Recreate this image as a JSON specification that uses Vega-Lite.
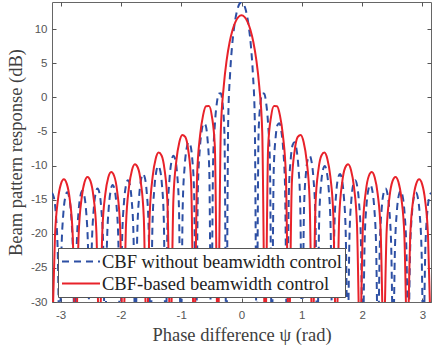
{
  "$schema": "https://vega.github.io/schema/vega-lite/v6.json",
  "width": 379,
  "height": 300,
  "autosize": "none",
  "padding": {"left": 52, "top": 2, "right": 1, "bottom": 50},
  "background": "white",
  "config": {
    "view": {"stroke": "#666666", "strokeWidth": 1},
    "axis": {"grid": false, "domain": false, "tickColor": "#555555", "tickWidth": 1, "labelFont": "Liberation Sans", "labelFontSize": 11.5, "labelColor": "#555555", "titleFont": "Liberation Serif", "titleFontSize": 18.5, "titleFontWeight": "normal", "titleColor": "#404040"}
  },
  "datasets": {
    "blue": [
      {"x":-3.1416,"y":-13.98},{"x":-3.1102,"y":-14.67},{"x":-3.0788,"y":-16.99},{"x":-3.0473,"y":-22.31},{"x":-3.0159,"y":-36},{"x":-2.9845,"y":-22.29},{"x":-2.9531,"y":-16.95},{"x":-2.9217,"y":-14.62},{"x":-2.8903,"y":-13.91},{"x":-2.8588,"y":-14.58},{"x":-2.8274,"y":-16.88},{"x":-2.796,"y":-22.19},{"x":-2.7646,"y":-36},{"x":-2.7332,"y":-22.14},{"x":-2.7018,"y":-16.78},{"x":-2.6704,"y":-14.43},{"x":-2.6389,"y":-13.7},{"x":-2.6075,"y":-14.36},{"x":-2.5761,"y":-16.64},{"x":-2.5447,"y":-21.93},{"x":-2.5133,"y":-36},{"x":-2.4819,"y":-21.84},{"x":-2.4504,"y":-16.46},{"x":-2.419,"y":-14.09},{"x":-2.3876,"y":-13.35},{"x":-2.3562,"y":-13.98},{"x":-2.3248,"y":-16.24},{"x":-2.2934,"y":-21.51},{"x":-2.2619,"y":-36},{"x":-2.2305,"y":-21.39},{"x":-2.1991,"y":-15.99},{"x":-2.1677,"y":-13.6},{"x":-2.1363,"y":-12.83},{"x":-2.1049,"y":-13.45},{"x":-2.0735,"y":-15.69},{"x":-2.042,"y":-20.94},{"x":-2.0106,"y":-36},{"x":-1.9792,"y":-20.76},{"x":-1.9478,"y":-15.34},{"x":-1.9164,"y":-12.93},{"x":-1.885,"y":-12.14},{"x":-1.8535,"y":-12.73},{"x":-1.8221,"y":-14.94},{"x":-1.7907,"y":-20.17},{"x":-1.7593,"y":-36},{"x":-1.7279,"y":-19.94},{"x":-1.6965,"y":-14.49},{"x":-1.665,"y":-12.05},{"x":-1.6336,"y":-11.23},{"x":-1.6022,"y":-11.79},{"x":-1.5708,"y":-13.98},{"x":-1.5394,"y":-19.17},{"x":-1.508,"y":-36},{"x":-1.4765,"y":-18.88},{"x":-1.4451,"y":-13.4},{"x":-1.4137,"y":-10.92},{"x":-1.3823,"y":-10.07},{"x":-1.3509,"y":-10.59},{"x":-1.3195,"y":-12.74},{"x":-1.2881,"y":-17.89},{"x":-1.2566,"y":-36},{"x":-1.2252,"y":-17.51},{"x":-1.1938,"y":-11.99},{"x":-1.1624,"y":-9.46},{"x":-1.131,"y":-8.56},{"x":-1.0996,"y":-9.03},{"x":-1.0681,"y":-11.13},{"x":-1.0367,"y":-16.22},{"x":-1.0053,"y":-36},{"x":-0.9739,"y":-15.72},{"x":-0.9425,"y":-10.13},{"x":-0.9111,"y":-7.54},{"x":-0.8796,"y":-6.56},{"x":-0.8482,"y":-6.96},{"x":-0.8168,"y":-8.97},{"x":-0.7854,"y":-13.98},{"x":-0.754,"y":-36},{"x":-0.7226,"y":-13.29},{"x":-0.6912,"y":-7.59},{"x":-0.6597,"y":-4.88},{"x":-0.6283,"y":-3.78},{"x":-0.5969,"y":-4.04},{"x":-0.5655,"y":-5.9},{"x":-0.5341,"y":-10.75},{"x":-0.5027,"y":-36},{"x":-0.4712,"y":-9.68},{"x":-0.4398,"y":-3.76},{"x":-0.4084,"y":-0.81},{"x":-0.377,"y":0.57},{"x":-0.3456,"y":0.62},{"x":-0.3142,"y":-0.88},{"x":-0.2827,"y":-5.3},{"x":-0.2513,"y":-36},{"x":-0.2199,"y":-3.13},{"x":-0.1885,"y":3.54},{"x":-0.1571,"y":7.44},{"x":-0.1257,"y":10.06},{"x":-0.0942,"y":11.87},{"x":-0.0628,"y":13.07},{"x":-0.0314,"y":13.76},
      {"x":0,"y":13.98},
      {"x":0.0314,"y":13.76},{"x":0.0628,"y":13.07},{"x":0.0942,"y":11.87},{"x":0.1257,"y":10.06},{"x":0.1571,"y":7.44},{"x":0.1885,"y":3.54},{"x":0.2199,"y":-3.13},{"x":0.2513,"y":-36},{"x":0.2827,"y":-5.3},{"x":0.3142,"y":-0.88},{"x":0.3456,"y":0.62},{"x":0.377,"y":0.57},{"x":0.4084,"y":-0.81},{"x":0.4398,"y":-3.76},{"x":0.4712,"y":-9.68},{"x":0.5027,"y":-36},{"x":0.5341,"y":-10.75},{"x":0.5655,"y":-5.9},{"x":0.5969,"y":-4.04},{"x":0.6283,"y":-3.78},{"x":0.6597,"y":-4.88},{"x":0.6912,"y":-7.59},{"x":0.7226,"y":-13.29},{"x":0.754,"y":-36},{"x":0.7854,"y":-13.98},{"x":0.8168,"y":-8.97},{"x":0.8482,"y":-6.96},{"x":0.8796,"y":-6.56},{"x":0.9111,"y":-7.54},{"x":0.9425,"y":-10.13},{"x":0.9739,"y":-15.72},{"x":1.0053,"y":-36},{"x":1.0367,"y":-16.22},{"x":1.0681,"y":-11.13},{"x":1.0996,"y":-9.03},{"x":1.131,"y":-8.56},{"x":1.1624,"y":-9.46},{"x":1.1938,"y":-11.99},{"x":1.2252,"y":-17.51},{"x":1.2566,"y":-36},{"x":1.2881,"y":-17.89},{"x":1.3195,"y":-12.74},{"x":1.3509,"y":-10.59},{"x":1.3823,"y":-10.07},{"x":1.4137,"y":-10.92},{"x":1.4451,"y":-13.4},{"x":1.4765,"y":-18.88},{"x":1.508,"y":-36},{"x":1.5394,"y":-19.17},{"x":1.5708,"y":-13.98},{"x":1.6022,"y":-11.79},{"x":1.6336,"y":-11.23},{"x":1.665,"y":-12.05},{"x":1.6965,"y":-14.49},{"x":1.7279,"y":-19.94},{"x":1.7593,"y":-36},{"x":1.7907,"y":-20.17},{"x":1.8221,"y":-14.94},{"x":1.8535,"y":-12.73},{"x":1.885,"y":-12.14},{"x":1.9164,"y":-12.93},{"x":1.9478,"y":-15.34},{"x":1.9792,"y":-20.76},{"x":2.0106,"y":-36},{"x":2.042,"y":-20.94},{"x":2.0735,"y":-15.69},{"x":2.1049,"y":-13.45},{"x":2.1363,"y":-12.83},{"x":2.1677,"y":-13.6},{"x":2.1991,"y":-15.99},{"x":2.2305,"y":-21.39},{"x":2.2619,"y":-36},{"x":2.2934,"y":-21.51},{"x":2.3248,"y":-16.24},{"x":2.3562,"y":-13.98},{"x":2.3876,"y":-13.35},{"x":2.419,"y":-14.09},{"x":2.4504,"y":-16.46},{"x":2.4819,"y":-21.84},{"x":2.5133,"y":-36},{"x":2.5447,"y":-21.93},{"x":2.5761,"y":-16.64},{"x":2.6075,"y":-14.36},{"x":2.6389,"y":-13.7},{"x":2.6704,"y":-14.43},{"x":2.7018,"y":-16.78},{"x":2.7332,"y":-22.14},{"x":2.7646,"y":-36},{"x":2.796,"y":-22.19},{"x":2.8274,"y":-16.88},{"x":2.8588,"y":-14.58},{"x":2.8903,"y":-13.91},{"x":2.9217,"y":-14.62},{"x":2.9531,"y":-16.95},{"x":2.9845,"y":-22.29},{"x":3.0159,"y":-36},{"x":3.0473,"y":-22.31},{"x":3.0788,"y":-16.99},{"x":3.1102,"y":-14.67},{"x":3.1416,"y":-13.98}
    ],
    "red": [
      {"x":-3.1416,"y":-36},{"x":-3.0925,"y":-20.38},{"x":-3.0434,"y":-15.04},{"x":-2.9943,"y":-12.71},{"x":-2.9452,"y":-12.0},{"x":-2.8962,"y":-12.67},{"x":-2.8471,"y":-14.96},{"x":-2.798,"y":-20.25},{"x":-2.7489,"y":-36},{"x":-2.6998,"y":-20.17},{"x":-2.6507,"y":-14.79},{"x":-2.6016,"y":-12.41},{"x":-2.5525,"y":-11.66},{"x":-2.5035,"y":-12.28},{"x":-2.4544,"y":-14.53},{"x":-2.4053,"y":-19.78},{"x":-2.3562,"y":-36},{"x":-2.3071,"y":-19.6},{"x":-2.258,"y":-14.17},{"x":-2.2089,"y":-11.75},{"x":-2.1598,"y":-10.95},{"x":-2.1108,"y":-11.52},{"x":-2.0617,"y":-13.72},{"x":-2.0126,"y":-18.92},{"x":-1.9635,"y":-36},{"x":-1.9144,"y":-18.63},{"x":-1.8653,"y":-13.15},{"x":-1.8162,"y":-10.66},{"x":-1.7671,"y":-9.8},{"x":-1.7181,"y":-10.31},{"x":-1.669,"y":-12.45},{"x":-1.6199,"y":-17.58},{"x":-1.5708,"y":-36},{"x":-1.5217,"y":-17.15},{"x":-1.4726,"y":-11.59},{"x":-1.4235,"y":-9.03},{"x":-1.3744,"y":-8.09},{"x":-1.3254,"y":-8.51},{"x":-1.2763,"y":-10.55},{"x":-1.2272,"y":-15.59},{"x":-1.1781,"y":-36},{"x":-1.129,"y":-14.95},{"x":-1.0799,"y":-9.27},{"x":-1.0308,"y":-6.58},{"x":-0.9817,"y":-5.51},{"x":-0.9327,"y":-5.79},{"x":-0.8836,"y":-7.67},{"x":-0.8345,"y":-12.53},{"x":-0.7854,"y":-36},{"x":-0.7363,"y":-11.5},{"x":-0.6872,"y":-5.6},{"x":-0.6381,"y":-2.66},{"x":-0.589,"y":-1.3},{"x":-0.54,"y":-1.25},{"x":-0.4909,"y":-2.76},{"x":-0.4418,"y":-7.19},{"x":-0.3927,"y":-36},{"x":-0.3436,"y":-5.04},{"x":-0.2945,"y":1.62},{"x":-0.2454,"y":5.51},{"x":-0.1963,"y":8.13},{"x":-0.1473,"y":9.94},{"x":-0.0982,"y":11.13},{"x":-0.0491,"y":11.82},
      {"x":0,"y":12.04},
      {"x":0.0491,"y":11.82},{"x":0.0982,"y":11.13},{"x":0.1473,"y":9.94},{"x":0.1963,"y":8.13},{"x":0.2454,"y":5.51},{"x":0.2945,"y":1.62},{"x":0.3436,"y":-5.04},{"x":0.3927,"y":-36},{"x":0.4418,"y":-7.19},{"x":0.4909,"y":-2.76},{"x":0.54,"y":-1.25},{"x":0.589,"y":-1.3},{"x":0.6381,"y":-2.66},{"x":0.6872,"y":-5.6},{"x":0.7363,"y":-11.5},{"x":0.7854,"y":-36},{"x":0.8345,"y":-12.53},{"x":0.8836,"y":-7.67},{"x":0.9327,"y":-5.79},{"x":0.9817,"y":-5.51},{"x":1.0308,"y":-6.58},{"x":1.0799,"y":-9.27},{"x":1.129,"y":-14.95},{"x":1.1781,"y":-36},{"x":1.2272,"y":-15.59},{"x":1.2763,"y":-10.55},{"x":1.3254,"y":-8.51},{"x":1.3744,"y":-8.09},{"x":1.4235,"y":-9.03},{"x":1.4726,"y":-11.59},{"x":1.5217,"y":-17.15},{"x":1.5708,"y":-36},{"x":1.6199,"y":-17.58},{"x":1.669,"y":-12.45},{"x":1.7181,"y":-10.31},{"x":1.7671,"y":-9.8},{"x":1.8162,"y":-10.66},{"x":1.8653,"y":-13.15},{"x":1.9144,"y":-18.63},{"x":1.9635,"y":-36},{"x":2.0126,"y":-18.92},{"x":2.0617,"y":-13.72},{"x":2.1108,"y":-11.52},{"x":2.1598,"y":-10.95},{"x":2.2089,"y":-11.75},{"x":2.258,"y":-14.17},{"x":2.3071,"y":-19.6},{"x":2.3562,"y":-36},{"x":2.4053,"y":-19.78},{"x":2.4544,"y":-14.53},{"x":2.5035,"y":-12.28},{"x":2.5525,"y":-11.66},{"x":2.6016,"y":-12.41},{"x":2.6507,"y":-14.79},{"x":2.6998,"y":-20.17},{"x":2.7489,"y":-36},{"x":2.798,"y":-20.25},{"x":2.8471,"y":-14.96},{"x":2.8962,"y":-12.67},{"x":2.9452,"y":-12.0},{"x":2.9943,"y":-12.71},{"x":3.0434,"y":-15.04},{"x":3.0925,"y":-20.38},{"x":3.1416,"y":-36}
    ]
  },
  "layer": [
    {
      "data": {"name": "blue"},
      "mark": {"type": "line", "clip": true, "strokeWidth": 2, "strokeDash": [7, 5], "interpolate": "monotone"},
      "encoding": {
        "x": {"field": "x", "type": "quantitative", "scale": {"domain": [-3.1416, 3.1416], "nice": false, "zero": false},
              "axis": {"orient": "bottom", "values": [-3, -2, -1, 0, 1, 2, 3], "offset": -4, "tickSize": 4, "labelPadding": 7, "labelExpr": "datum.value < 0 ? '-' + abs(datum.value) : '' + datum.value", "title": "Phase difference ψ (rad)", "titlePadding": 5}},
        "y": {"field": "y", "type": "quantitative", "scale": {"domain": [-30, 14], "nice": false, "zero": false},
              "axis": {"orient": "left", "values": [-30, -25, -20, -15, -10, -5, 0, 5, 10], "offset": -4, "tickSize": 4, "labelPadding": 5, "labelExpr": "datum.value < 0 ? '-' + abs(datum.value) : '' + datum.value", "title": "Beam pattern response (dB)", "titlePadding": 5}},
        "color": {"datum": "CBF without beamwidth control", "type": "nominal",
                  "scale": {"domain": ["CBF without beamwidth control", "CBF-based beamwidth control"], "range": ["#2d4fa4", "#e8222a"]},
                  "legend": {"title": null, "orient": "none", "legendX": 6, "legendY": 246, "direction": "vertical", "fillColor": "white", "strokeColor": "#555555", "padding": 3, "symbolType": "stroke", "symbolSize": 1444, "symbolStrokeWidth": 2, "clipHeight": 21, "labelFont": "Liberation Serif", "labelFontSize": 18.5, "labelColor": "#222222", "labelLimit": 330, "labelOffset": 1, "rowPadding": 1,
                             "encode": {"symbols": {"update": {"strokeDash": {"signal": "datum.value === 'CBF without beamwidth control' ? [7, 5] : [1, 0]"}}}}}}
      }
    },
    {
      "data": {"name": "red"},
      "mark": {"type": "line", "clip": true, "strokeWidth": 2, "interpolate": "monotone"},
      "encoding": {
        "x": {"field": "x", "type": "quantitative",
              "axis": {"orient": "top", "values": [-3, -2, -1, 0, 1, 2, 3], "offset": -4, "tickSize": 4, "labels": false, "title": null}},
        "y": {"field": "y", "type": "quantitative",
              "axis": {"orient": "right", "values": [-30, -25, -20, -15, -10, -5, 0, 5, 10], "offset": -4, "tickSize": 4, "labels": false, "title": null}},
        "color": {"datum": "CBF-based beamwidth control", "type": "nominal"}
      }
    }
  ],
  "resolve": {"axis": {"x": "independent", "y": "independent"}}
}
